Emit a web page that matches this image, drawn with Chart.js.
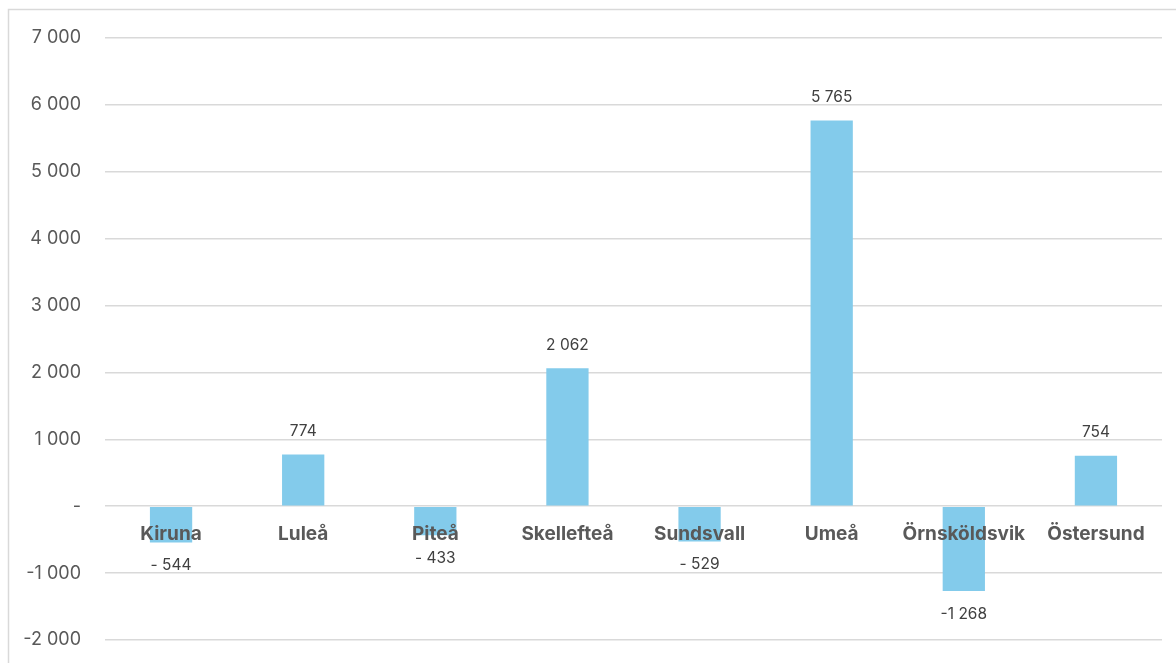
<!DOCTYPE html>
<html>
<head>
<meta charset="utf-8">
<script src="https://cdn.jsdelivr.net/npm/chart.js@4"></script>
<style>
  html, body { margin: 0; padding: 0; background: #fff; overflow: hidden; }
  #wrap { position: relative; width: 1176px; height: 663px; }
</style>
</head>
<body>
<div id="wrap"><canvas id="chart"></canvas></div>
<script>
const cities = ['Kiruna', 'Luleå', 'Piteå', 'Skellefteå', 'Sundsvall', 'Umeå', 'Örnsköldsvik', 'Östersund'];
const change = [-544, 774, -433, 2062, -529, 5765, -1268, 754];
const yTicks = [-2000, -1000, 0, 1000, 2000, 3000, 4000, 5000, 6000, 7000];

const BAR  = '#83cbeb';
const GRID = '#d9d9d9';
const TEXT = '#595959';

// excel-ish number format: space as thousands sep, "-" for zero
function fmt(v) {
  if (v === 0) return '-';
  const s = Math.abs(v).toString().replace(/\B(?=(\d{3})+(?!\d))/g, ' ');
  if (v < 0) return (Math.abs(v) < 1000 ? '- ' : '-') + s;
  return s;
}

const frame = {
  id: 'frame',
  beforeDraw(chart) {
    const c = chart.ctx;
    c.save();
    c.strokeStyle = GRID;
    c.lineWidth = 1.5;
    c.beginPath();
    c.moveTo(8.5, 663);
    c.lineTo(8.5, 9.5);
    c.lineTo(1176, 9.5);
    c.stroke();
    c.restore();
  }
};

const valueLabels = {
  id: 'valueLabels',
  afterDatasetsDraw(chart) {
    const c = chart.ctx;
    const meta = chart.getDatasetMeta(0);
    c.save();
    c.font = '15.5px Inter';
    c.fillStyle = '#404040';
    c.textAlign = 'center';
    c.textBaseline = 'middle';
    meta.data.forEach((bar, i) => {
      const v = change[i];
      const y = v >= 0 ? bar.y - 23 : bar.y + 23;
      c.fillText(fmt(v), bar.x, y);
    });
    c.restore();
  }
};

new Chart(document.getElementById('chart'), {
  type: 'bar',
  data: {
    labels: cities,
    datasets: [{ data: change, backgroundColor: BAR, barPercentage: 0.32, categoryPercentage: 1 }]
  },
  options: {
    responsive: true,
    maintainAspectRatio: false,
    animation: false,
    layout: { padding: { top: 38, right: 14, bottom: 23, left: 0 } },
    plugins: { legend: { display: false }, tooltip: { enabled: false } },
    scales: {
      x: {
        position: { y: 0 },
        afterFit: s => { s.height = 0; },
        grid: { display: false, drawTicks: false },
        border: { display: false },
        ticks: { z: 1, color: TEXT, padding: 17, font: { family: 'Inter', size: 19, weight: 'bold' } }
      },
      y: {
        min: -2000,
        max: 7000,
        afterBuildTicks: s => { s.ticks = yTicks.map(v => ({ value: v })); },
        afterFit: s => { s.width = 105; s.paddingTop = 11; s.paddingBottom = 11; },
        grid: { color: GRID, lineWidth: 1.5, drawTicks: false },
        border: { display: false },
        ticks: { color: TEXT, padding: 24, font: { family: 'Inter', size: 18 }, callback: v => fmt(v) }
      }
    }
  },
  plugins: [frame, valueLabels]
});
</script>
</body>
</html>
